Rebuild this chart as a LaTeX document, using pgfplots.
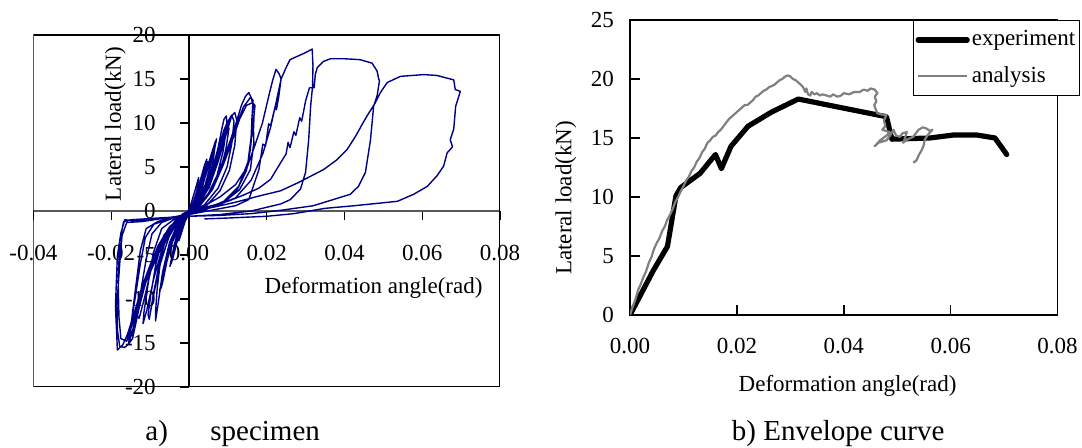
\documentclass[border=0pt]{standalone}
\usepackage{fontspec}
\setmainfont{Liberation Serif}
\usepackage{pgfplots}
\pgfplotsset{compat=1.18}
\definecolor{navyline}{RGB}{0,0,135}
\definecolor{anagray}{RGB}{128,128,128}
\newcommand{\axfont}{\fontsize{11.5pt}{13.8pt}\selectfont}
\begin{document}
\axfont
\begin{tikzpicture}
\path[use as bounding box] (0pt,0pt) rectangle (541pt,224pt);
% ---------------- left: hysteresis ----------------
\begin{axis}[
  at={(16.7pt,30.5pt)}, anchor=south west,
  scale only axis, width=233.3pt, height=176pt,
  xmin=-0.04, xmax=0.08, ymin=-20, ymax=20,
  axis lines*=middle,
  axis line style={line width=0.6pt, black},
  x axis line style={black!65},
  xtick={-0.04,-0.02,0,0.02,0.04,0.06,0.08},
  ytick={-20,-15,-10,-5,0,5,10,15,20},
  hide obscured x ticks=false, hide obscured y ticks=false,
  tick align=outside, major tick length=4.6pt,
  tick style={black, line width=0.6pt},
  font=\axfont,
  /pgf/number format/assume math mode=true,
  xticklabel style={/pgf/number format/.cd, fixed, fixed zerofill, precision=2, /tikz/.cd, yshift=-8.5pt},
  yticklabel style={xshift=-8pt},
  scaled x ticks=false,
  xlabel={Deformation angle(rad)},
  ylabel={Lateral load(kN)},
  every axis x label/.style={at={(rel axis cs:0.729,0.282)}, anchor=center},
  every axis y label/.style={at={(rel axis cs:0.1757,0.747)}, anchor=center, rotate=90},
]
\draw[line width=0.75pt, black] (rel axis cs:0,0) rectangle (rel axis cs:1,1);
\addplot[navyline, line width=0.7pt, line join=round] coordinates {
(0,0) (0.001,1.5) (0.002,3.0) (0.0025,3.8) (0.0021,2.4) (0.0011,0.7) (0,-0.3) (-0.001,-1.2) (-0.002,-2.6) (-0.0026,-3.4) (-0.0019,-1.9) (-0.0008,-0.6) (0,0.1)
(0.001,0.8) (0.002,2.2) (0.003,3.6) (0.004,5.2) (0.0046,5.9) (0.0038,3.9) (0.0025,1.6) (0.001,0.3) (-0.001,-0.6) (-0.002,-1.8) (-0.003,-3.4) (-0.0042,-5.5) (-0.0049,-6.3) (-0.0039,-4.1) (-0.0025,-2.0) (-0.001,-0.5) (0,0.2)
(0.0012,0.7) (0.0024,2.3) (0.0035,3.9) (0.0044,5.4) (0.0048,5.6) (0.004,3.6) (0.0026,1.4) (0.001,0.2) (-0.0012,-0.7) (-0.0024,-2.0) (-0.0035,-3.8) (-0.0045,-5.6) (-0.0047,-5.9) (-0.0037,-3.7) (-0.0022,-1.6) (-0.0008,-0.3) (0,0.1)
(0.0015,0.8) (0.003,2.5) (0.0045,4.6) (0.006,6.8) (0.0068,7.9) (0.0062,6.4) (0.0058,5.6) (0.0042,3.0) (0.002,0.9) (0,-0.3) (-0.002,-1.2) (-0.004,-3.0) (-0.0055,-5.4) (-0.0068,-8.2) (-0.0072,-8.8) (-0.006,-6.2) (-0.0042,-3.5) (-0.002,-1.3) (0,0)
(0.0018,0.9) (0.0034,2.8) (0.005,5.0) (0.0063,7.2) (0.0071,8.2) (0.0066,7.0) (0.0061,5.3) (0.0045,2.9) (0.0022,0.8) (0,-0.4) (-0.0022,-1.3) (-0.0043,-3.2) (-0.006,-6.0) (-0.007,-8.0) (-0.0075,-9.0) (-0.0064,-6.6) (-0.0045,-3.7) (-0.0021,-1.2) (0,0)
(0.002,0.7) (0.004,2.3) (0.006,4.6) (0.0075,7.2) (0.0085,9.4) (0.009,10.4) (0.0096,10.8) (0.0098,9.8) (0.0088,6.8) (0.0072,4.0) (0.005,2.0) (0.0025,0.6) (0,-0.2) (-0.003,-0.9) (-0.005,-2.0) (-0.007,-4.5) (-0.0085,-8.0) (-0.0095,-10.6) (-0.0098,-11.2) (-0.0088,-8.6) (-0.007,-5.4) (-0.005,-2.8) (-0.0025,-0.9) (0,0)
(0.0022,0.8) (0.0045,2.6) (0.0065,5.0) (0.008,7.6) (0.009,9.2) (0.0097,9.9) (0.0103,9.4) (0.0095,7.0) (0.008,4.4) (0.0055,2.1) (0.0028,0.6) (0,-0.3) (-0.003,-1.0) (-0.0055,-2.4) (-0.0072,-5.2) (-0.0082,-9.0) (-0.0086,-11.6) (-0.0086,-12.5) (-0.008,-10.8) (-0.0068,-7.0) (-0.005,-3.6) (-0.0025,-1.1) (0,0)
(0.0025,0.8) (0.005,2.8) (0.007,5.4) (0.0088,8.2) (0.0102,10.3) (0.011,10.9) (0.0116,10.2) (0.011,7.6) (0.0098,5.0) (0.0075,2.6) (0.004,0.7) (0,-0.3) (-0.0035,-1.1) (-0.0065,-2.8) (-0.0085,-6.0) (-0.0098,-9.5) (-0.0105,-11.8) (-0.0102,-12.3) (-0.0092,-9.8) (-0.0075,-6.2) (-0.0052,-3.0) (-0.0025,-0.9) (0,0)
(0.0025,0.7) (0.0052,2.7) (0.0075,5.6) (0.0095,8.6) (0.011,10.8) (0.0118,11.2) (0.0123,10.3) (0.0118,7.5) (0.0104,4.6) (0.008,2.3) (0.0045,0.6) (0,-0.4) (-0.004,-1.0) (-0.007,-2.0) (-0.0092,-4.8) (-0.0105,-8.3) (-0.0116,-11.6) (-0.0118,-12.8) (-0.0108,-11.2) (-0.009,-7.6) (-0.0068,-4.2) (-0.004,-1.6) (-0.0015,-0.3) (0,0)
(0.003,0.8) (0.006,2.6) (0.008,4.8) (0.010,7.2) (0.012,9.8) (0.0135,12.0) (0.0145,13.0) (0.0154,13.45) (0.016,12.9) (0.0168,11.5) (0.0166,9.2) (0.0167,7.8) (0.0158,4.7) (0.013,2.4) (0.009,1.0) (0.004,0.2) (0,-0.3) (-0.004,-0.7) (-0.008,-1.2) (-0.011,-2.0) (-0.0125,-4.5) (-0.0135,-8.0) (-0.0145,-11.5) (-0.015,-13.5) (-0.0148,-14.2) (-0.013,-11.2) (-0.011,-7.5) (-0.008,-4.0) (-0.005,-1.8) (-0.002,-0.6) (0,0)
(0.003,0.7) (0.006,2.4) (0.0085,4.9) (0.0105,7.4) (0.0125,10.0) (0.014,11.8) (0.0158,12.9) (0.0165,12.6) (0.0162,10.5) (0.016,8.4) (0.0152,5.6) (0.0128,2.8) (0.009,1.1) (0.004,0.2) (0,-0.4) (-0.004,-0.8) (-0.007,-1.3) (-0.0095,-2.6) (-0.011,-5.5) (-0.0122,-8.6) (-0.0133,-11.9) (-0.0128,-12.2) (-0.0115,-10.0) (-0.0098,-6.8) (-0.007,-3.6) (-0.004,-1.5) (-0.0015,-0.4) (0,0)
(0.003,0.8) (0.0062,2.7) (0.0088,5.2) (0.011,7.8) (0.013,10.4) (0.0148,12.0) (0.0163,12.3) (0.017,12.0) (0.0164,9.6) (0.0158,7.0) (0.0148,4.6) (0.0125,2.5) (0.009,1.0) (0.004,0.1) (0,-0.4) (-0.005,-0.9) (-0.009,-1.5) (-0.0112,-3.0) (-0.0125,-6.0) (-0.0138,-9.8) (-0.0152,-13.6) (-0.0155,-15.1) (-0.0145,-14.5) (-0.0128,-11.0) (-0.0105,-7.0) (-0.0075,-3.8) (-0.004,-1.4) (-0.0015,-0.3) (0,0)
(0.004,0.6) (0.008,1.6) (0.012,3.0) (0.015,5.0) (0.017,7.5) (0.0189,10.0) (0.0205,13.0) (0.0215,14.8) (0.0224,16.1) (0.0232,15.6) (0.0237,15.0) (0.0231,13.0) (0.0225,11.5) (0.0222,11.9) (0.021,9.7) (0.0205,9.9) (0.0197,7.4) (0.019,7.6) (0.018,4.7) (0.0154,1.3) (0.012,0.6) (0.006,0.1) (0,-0.4) (-0.006,-0.8) (-0.012,-1.2) (-0.016,-1.3) (-0.0172,-2.8) (-0.0178,-6) (-0.0185,-10.5) (-0.0184,-13.5) (-0.0178,-15.4) (-0.0165,-15.5) (-0.0155,-15.1) (-0.0145,-13.6) (-0.013,-11) (-0.011,-8) (-0.008,-5) (-0.005,-2.5) (-0.002,-0.8) (0,0)
(0.006,0.4) (0.012,1.5) (0.016,3.5) (0.019,6.5) (0.021,9.5) (0.0225,12.5) (0.0237,15.0) (0.025,16.3) (0.026,17.2) (0.028,17.6) (0.030,18.0) (0.0317,18.4) (0.0319,16.5) (0.0318,14.2) (0.0313,11.9) (0.0308,8.1) (0.030,4.4) (0.0287,2.5) (0.0261,1.3) (0.0236,0.8) (0.016,0.0) (0.008,-0.4) (0,-0.6) (-0.008,-0.9) (-0.014,-1.1) (-0.0165,-1.0) (-0.0175,-2.5) (-0.0184,-5.1) (-0.0189,-10.8) (-0.0186,-13.8) (-0.0184,-15.8) (-0.017,-15.2) (-0.0158,-14.0) (-0.0140,-11.5) (-0.012,-8.5) (-0.009,-5.0) (-0.005,-2.2) (-0.002,-0.6) (0,0)
(0.005,0.5) (0.010,1.1) (0.014,1.8) (0.018,2.6) (0.021,3.6) (0.0236,5.5) (0.025,6.5) (0.0255,7.8) (0.026,7.2) (0.027,9.0) (0.0275,8.6) (0.0285,10.6) (0.029,10.2) (0.030,12.5) (0.031,14.0) (0.0322,14.0) (0.0325,15.5) (0.033,16.3) (0.0346,17.0) (0.0364,17.3) (0.040,17.3) (0.044,17.2) (0.0471,16.8) (0.0484,15.9) (0.0488,15.0) (0.0490,14.8) (0.0484,13.1) (0.0475,11.9) (0.0467,8.1) (0.0454,4.4) (0.0436,2.8) (0.0415,1.9) (0.032,0.6) (0.024,0.1) (0.016,-0.3) (0.008,-0.5) (0,-0.6) (-0.008,-0.8) (-0.015,-1.0) (-0.0168,-1.2) (-0.0178,-3.5) (-0.0182,-8) (-0.0180,-12) (-0.0175,-14.5) (-0.016,-14.8) (-0.0145,-12.8) (-0.012,-9) (-0.009,-5.5) (-0.005,-2.3) (-0.002,-0.6) (0,0)
(0.006,0.4) (0.012,1.0) (0.018,1.7) (0.0236,2.3) (0.028,3.2) (0.0346,4.7) (0.038,5.8) (0.0407,7.0) (0.043,8.6) (0.0445,9.8) (0.0458,10.8) (0.0478,12.2) (0.0493,13.5) (0.051,14.6) (0.0544,15.3) (0.0604,15.5) (0.0638,15.4) (0.0681,14.9) (0.0685,13.8) (0.0698,13.6) (0.0686,11.9) (0.0681,9.3) (0.0672,8.1) (0.0678,7.3) (0.0664,6.6) (0.0655,5.1) (0.0638,4.0) (0.0613,2.8) (0.0578,1.9) (0.0536,1.1) (0.0425,0.6) (0.035,0.3) (0.027,-0.3) (0.020,-0.6) (0.010,-0.8) (0.004,-0.9)
};
\end{axis}
% ---------------- right: envelope ----------------
\begin{axis}[
  at={(315pt,66.5pt)}, anchor=south west,
  scale only axis, width=213.75pt, height=147.5pt,
  xmin=0, xmax=0.08, ymin=0, ymax=25,
  xtick={0,0.02,0.04,0.06,0.08},
  ytick={0,5,10,15,20,25},
  xtick pos=left, ytick pos=left,
  tick align=inside, major tick length=5pt,
  tick style={black, line width=0.8pt},
  axis line style={line width=0.9pt, black},
  font=\axfont,
  /pgf/number format/assume math mode=true,
  xticklabel style={/pgf/number format/.cd, fixed, fixed zerofill, precision=2, /tikz/.cd, yshift=-7.5pt},
  yticklabel style={xshift=-4pt},
  scaled x ticks=false,
  xlabel={Deformation angle(rad)},
  ylabel={Lateral load(kN)},
  every axis x label/.style={at={(rel axis cs:0.509,-0.24)}, anchor=center},
  every axis y label/.style={at={(rel axis cs:-0.15,0.397)}, anchor=center, rotate=90},
  legend style={at={(rel axis cs:0.662,1)}, anchor=north west, draw=black, line width=0.6pt,
    fill=white, font=\axfont, inner xsep=1pt, inner ysep=4pt, row sep=6.5pt, column sep=0pt,
    nodes={inner sep=1pt}, cells={anchor=west}},
  legend image code/.code={\draw[#1] (0pt,0pt) -- (24.5pt,0pt);},
]
\addplot[black, line width=2.6pt, line join=round, line cap=round] coordinates {
(0,0) (0.0044,3.8) (0.0070,5.8) (0.0086,10.1) (0.0095,10.8) (0.0131,12.0) (0.0160,13.6) (0.0171,12.4) (0.0189,14.3) (0.0221,16.0) (0.0265,17.2) (0.0315,18.3) (0.0480,16.8) (0.0490,14.9) (0.0561,15.0) (0.0605,15.25) (0.0649,15.25) (0.0683,15.0) (0.0705,13.6)
};
\addlegendentry{experiment}
\addplot[anagray, line width=1.1pt, line join=round] coordinates {
(0,0) (0.0005,0.7) (0.001,1.3) (0.0015,2.1) (0.002,2.6) (0.0025,3.2) (0.003,3.7) (0.0035,4.4) (0.004,4.9) (0.0045,5.6) (0.005,6.1) (0.0055,6.5) (0.006,7.1) (0.0065,7.5) (0.007,8.1) (0.0075,8.5) (0.008,9.0) (0.0085,9.6) (0.009,10.0) (0.0095,10.5) (0.010,10.9) (0.0105,11.4) (0.011,11.7) (0.0115,12.2) (0.012,12.5) (0.0125,13.0) (0.013,13.3) (0.0135,13.8) (0.014,14.1) (0.0145,14.6) (0.015,14.8) (0.0155,15.1) (0.016,15.2) (0.0165,15.5) (0.017,15.7) (0.0175,16.0) (0.018,16.3) (0.0185,16.6) (0.019,16.8) (0.0195,17.0) (0.020,17.2) (0.0205,17.4) (0.021,17.6) (0.0215,17.8) (0.022,17.8) (0.0225,18.0) (0.023,18.2) (0.0235,18.5) (0.024,18.6) (0.0245,18.8) (0.025,19.0) (0.0255,19.1) (0.026,19.3) (0.0265,19.4) (0.027,19.5) (0.0275,19.7) (0.028,19.9) (0.0285,20.0) (0.029,20.2) (0.0295,20.3) (0.0299,20.25) (0.0305,20.0) (0.031,19.9) (0.0315,19.7) (0.032,19.5) (0.0324,19.3) (0.0328,18.9) (0.033,19.2) (0.0333,18.7) (0.0337,18.6) (0.034,18.9) (0.0345,18.7) (0.035,18.8) (0.0355,18.6) (0.036,18.7) (0.0368,18.6) (0.0375,18.5) (0.038,18.7) (0.0388,18.5) (0.0395,18.6) (0.040,18.8) (0.041,18.7) (0.042,18.9) (0.043,18.9) (0.0437,19.1) (0.0445,19.0) (0.045,19.2) (0.0458,19.1) (0.0463,18.8) (0.0458,18.5) (0.0461,18.1) (0.0457,17.8) (0.046,17.4) (0.0463,17.1) (0.047,17.0) (0.048,16.95) (0.0475,16.5) (0.0478,16.0) (0.0472,15.7) (0.0486,15.5) (0.048,15.2) (0.0468,14.8) (0.0458,14.3) (0.0465,14.6) (0.048,14.8) (0.0488,15.3) (0.0493,15.7) (0.0498,15.2) (0.0505,15.1) (0.051,15.4) (0.0518,15.5) (0.0514,14.9) (0.0511,14.6) (0.052,14.9) (0.053,15.1) (0.0535,15.4) (0.054,15.7) (0.0548,15.9) (0.0555,15.8) (0.0561,15.6) (0.0566,15.7) (0.0558,15.3) (0.0552,14.9) (0.0549,14.3) (0.0545,13.9) (0.0541,13.6) (0.0536,13.1) (0.053,12.9)
};
\addlegendentry{analysis}
\end{axis}
% captions
\node[anchor=base west, inner sep=0pt, font=\fontsize{14.5pt}{17pt}\selectfont] at (72.5pt,3.7pt) {a)};
\node[anchor=base west, inner sep=0pt, font=\fontsize{14.5pt}{17pt}\selectfont] at (105pt,3.7pt) {specimen};
\node[anchor=base west, inner sep=0pt, font=\fontsize{14.5pt}{17pt}\selectfont] at (365.75pt,3.7pt) {b) Envelope curve};
\end{tikzpicture}
\end{document}
